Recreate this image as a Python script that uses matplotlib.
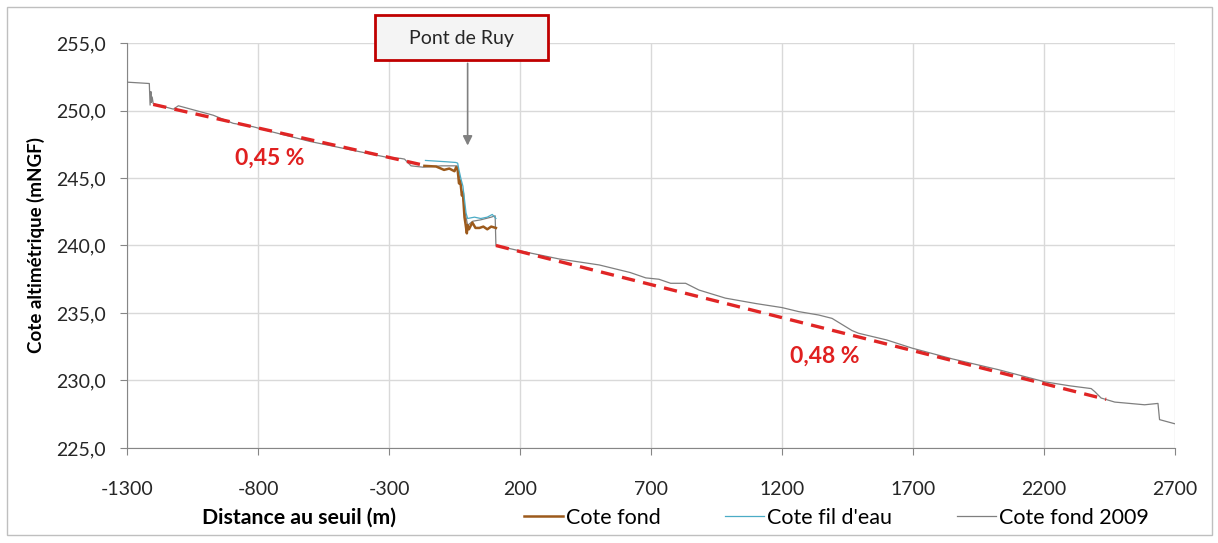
import matplotlib.pyplot as plt
from matplotlib.patches import Rectangle

plt.rcParams['font.family'] = ['Lato', 'DejaVu Sans']
plt.rcParams['axes.unicode_minus'] = False

# Profil en long 2009 (gris)
x_2009 = [-1300, -1215, -1212, -1209, -1207, -1204, -1200, -1123, -1104, -971, -895, -819,
          -743, -600, -450, -300, -255, -241, -216, -170, -100, -40, -30, -20, -10, 0, 20,
          50, 90, 105, 108, 200, 350, 502, 620, 680, 730, 775, 832, 883, 984, 1100, 1200,
          1264, 1340, 1391, 1467, 1492, 1600, 1696, 1850, 2026, 2203, 2300, 2380, 2394,
          2418, 2470, 2584, 2635, 2641, 2698]
y_2009 = [252.1, 252.0, 250.4, 251.4, 250.6, 251.0, 250.5, 250.1, 250.35, 249.65, 249.05, 248.8,
          248.4, 247.7, 247.1, 246.5, 246.45, 246.4, 245.9, 245.8, 245.9, 245.9, 245.0, 243.8,
          242.5, 241.5, 241.8, 241.9, 242.1, 242.2, 240.0, 239.6, 239.0, 238.56, 238.0, 237.6,
          237.5, 237.2, 237.2, 236.7, 236.1, 235.7, 235.4, 235.1, 234.85, 234.6, 233.7, 233.5,
          233.0, 232.4, 231.6, 230.8, 229.9, 229.6, 229.4, 229.17, 228.7, 228.4, 228.2, 228.3,
          227.1, 226.8]

# Cote fond (marron)
x_fond = [-165, -120, -90, -70, -50, -44, -38, -33, -28, -22, -18, -12, -8, -3, 0, 5, 18, 30,
          45, 60, 75, 90, 108]
y_fond = [245.9, 245.85, 245.6, 245.7, 245.5, 245.8, 245.6, 244.6, 244.8, 243.7, 243.9, 242.1,
          241.6, 240.9, 241.5, 241.2, 241.7, 241.3, 241.3, 241.4, 241.2, 241.4, 241.3]

# Cote fil d'eau (bleu)
x_eau = [-161, -120, -80, -45, -38, -33, -25, -18, -12, -6, 0, 26, 50, 75, 94, 108]
y_eau = [246.3, 246.25, 246.2, 246.15, 246.1, 245.6, 244.9, 244.4, 243.4, 242.4, 242.0, 242.1,
         242.0, 242.1, 242.3, 242.0]

# pentes
pente1_x = [-1200, -180]
pente1_y = [250.45, 246.0]
pente2_x = [108, 2437]
pente2_y = [240.0, 228.6]

xticks = [-1300, -800, -300, 200, 700, 1200, 1700, 2200, 2700]
yticks = [225, 230, 235, 240, 245, 250, 255]

fig = plt.figure(figsize=(12.18, 5.43), dpi=100)
ax = fig.add_axes([0.1043, 0.175, 0.8604, 0.7458])

ax.plot(x_2009, y_2009, color='#7f7f7f', lw=0.9, label='Cote fond 2009', zorder=3)
ax.plot(x_fond, y_fond, color='#9c5a1c', lw=1.8, label='Cote fond', zorder=4)
ax.plot(x_eau, y_eau, color='#4bacc6', lw=0.9, label="Cote fil d'eau", zorder=5)
ax.plot(pente1_x, pente1_y, color='#e02525', lw=2.4, ls=(0, (4, 2.5)), zorder=6)
ax.plot(pente2_x, pente2_y, color='#e02525', lw=2.4, ls=(0, (4, 2.5)), zorder=6)

ax.text(-755, 246.5, '0,45 %', color='#e02020', fontsize=16.5, fontweight='bold',
        ha='center', va='center')
ax.text(1363, 231.8, '0,48 %', color='#e02020', fontsize=16.5, fontweight='bold',
        ha='center', va='center')

ax.set_xlim(-1300, 2700)
ax.set_ylim(225, 255)
ax.set_xticks(xticks)
ax.set_yticks(yticks)
ax.set_yticklabels([f'{v:.1f}'.replace('.', ',') for v in yticks])
ax.tick_params(axis='y', labelsize=14, colors='#262626', length=5, color='#868686', pad=10)
ax.tick_params(axis='x', labelsize=14, colors='#262626', length=5, color='#868686', pad=19)
ax.grid(True, color='#d9d9d9', lw=1)
ax.set_axisbelow(True)
for s in ['top', 'right']:
    ax.spines[s].set_visible(False)
for s in ['left', 'bottom']:
    ax.spines[s].set_color('#868686')

ax.set_ylabel('Cote altimétrique (mNGF)', fontsize=13.5, fontweight='bold', labelpad=8)

# Pont de Ruy
ax.annotate('', xy=(0, 247.2), xytext=(0, 253.7),
            arrowprops=dict(arrowstyle='-|>', color='#808080', lw=1.2, mutation_scale=14),
            annotation_clip=False)
fig.patches.append(Rectangle((0.3079, 0.8895), 0.142, 0.0829, transform=fig.transFigure,
                             facecolor='#f4f4f4', edgecolor='#c00000', lw=2, zorder=10))
fig.text(0.3785, 0.930, 'Pont de Ruy', fontsize=14, ha='center', va='center',
         color='#262626', zorder=11)

fig.text(202 / 1218, 1 - 518 / 543, 'Distance au seuil (m)', fontsize=15.3, fontweight='bold',
         ha='left', va='center')

h, l = ax.get_legend_handles_labels()
order = [1, 2, 0]
fig.legend([h[i] for i in order], [l[i] for i in order], loc='center left',
           bbox_to_anchor=(524 / 1218, 1 - 518 / 543), ncol=3, frameon=False, fontsize=15.5,
           handlelength=1.8, handletextpad=0.15, columnspacing=3.0, borderpad=0,
           borderaxespad=0)

# cadre du graphique
fig.patches.append(Rectangle((0.006, 0.015), 0.989, 0.972, transform=fig.transFigure,
                             fill=False, edgecolor='#bfbfbf', lw=1))

plt.savefig('out.png')
